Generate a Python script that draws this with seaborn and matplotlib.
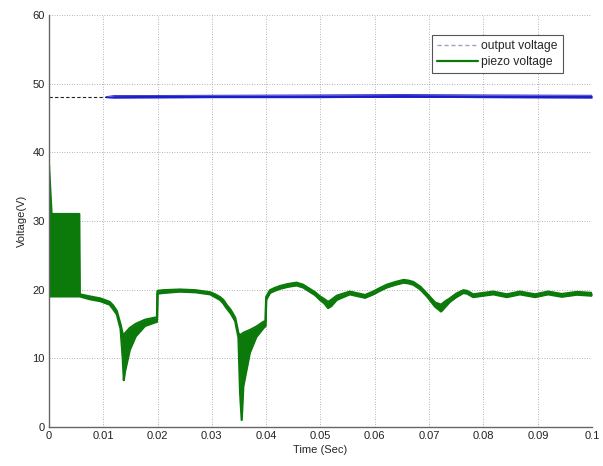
import numpy as np
import pandas as pd
import matplotlib
matplotlib.use("Agg")
import matplotlib.pyplot as plt
import seaborn as sns
from matplotlib.lines import Line2D

# --- DATA ---

# piezo voltage: envelope of the fast switching band (time, upper, lower)
piezo_t = [0.0, 0.0005, 0.0056, 0.0057, 0.0075, 0.0095, 0.0112, 0.0118, 0.0125,
           0.0132, 0.0136, 0.0138, 0.0140, 0.0149, 0.0160, 0.0177, 0.0195, 0.0199,
           0.0200, 0.0210, 0.0241, 0.0270, 0.0297, 0.0306, 0.0315, 0.0321, 0.0327,
           0.0335, 0.0343, 0.0349, 0.0352, 0.0355, 0.0358, 0.0370, 0.0382, 0.0395,
           0.0399, 0.0400, 0.0407, 0.0415, 0.0425, 0.0440, 0.0456, 0.0468, 0.0480,
           0.0490, 0.0499, 0.0507, 0.0514, 0.0520, 0.0530, 0.0554, 0.0565, 0.0582,
           0.0597, 0.0609, 0.0622, 0.0638, 0.0653, 0.0662, 0.0671, 0.0684, 0.0696,
           0.0711, 0.0722, 0.0730, 0.0738, 0.0750, 0.0763, 0.0770, 0.0781, 0.0818,
           0.0843, 0.0867, 0.0895, 0.0919, 0.0944, 0.0972, 0.1000]
piezo_hi = [38.5, 31.0, 31.0, 19.3, 19.0, 18.7, 18.2, 17.7, 16.9,
            14.9, 13.5, 13.4, 13.6, 14.4, 15.0, 15.6, 15.9, 15.9,
            19.8, 19.9, 20.0, 19.9, 19.6, 19.3, 18.9, 18.5, 17.8,
            17.0, 15.9, 13.6, 13.4, 13.5, 13.7, 14.1, 14.6, 15.3,
            15.4, 18.9, 19.9, 20.2, 20.5, 20.8, 21.0, 20.7, 20.1,
            19.6, 19.0, 18.6, 18.2, 18.5, 19.1, 19.7, 19.5, 19.2,
            19.7, 20.2, 20.7, 21.1, 21.4, 21.3, 21.1, 20.4, 19.4,
            18.1, 17.8, 18.3, 18.7, 19.4, 19.9, 19.8, 19.3, 19.7,
            19.3, 19.7, 19.3, 19.7, 19.35, 19.65, 19.5]
piezo_lo = [19.0, 19.0, 19.0, 19.0, 18.6, 18.3, 17.8, 17.2, 16.4,
            14.3, 10.0, 6.8, 8.0, 11.2, 13.2, 14.7, 15.2, 15.3,
            19.4, 19.5, 19.7, 19.6, 19.3, 18.9, 18.5, 18.0, 17.3,
            16.5, 15.4, 13.0, 5.0, 1.0, 5.9, 10.8, 13.1, 14.4,
            14.7, 18.5, 19.5, 19.8, 20.1, 20.4, 20.6, 20.3, 19.7,
            19.2, 18.5, 18.0, 17.3, 17.6, 18.5, 19.3, 19.1, 18.8,
            19.3, 19.8, 20.3, 20.7, 21.0, 20.9, 20.7, 20.0, 19.0,
            17.5, 16.8, 17.5, 18.2, 18.9, 19.5, 19.4, 18.9, 19.3,
            18.9, 19.3, 18.9, 19.3, 18.95, 19.25, 19.1]

# output voltage: dashed start, then a thin noisy band
out_start_t = [0.0, 0.0105]
out_start_v = [48.1, 48.1]
out_t = [0.0105, 0.012, 0.03, 0.05, 0.065, 0.08, 0.1]
out_hi = [48.1, 48.25, 48.3, 48.35, 48.4, 48.35, 48.3]
out_lo = [47.95, 47.9, 47.95, 47.95, 48.0, 47.95, 47.9]

x_ticks = [0, 0.01, 0.02, 0.03, 0.04, 0.05, 0.06, 0.07, 0.08, 0.09, 0.1]
x_labels = ["0", "0.01", "0.02", "0.03", "0.04", "0.05", "0.06", "0.07", "0.08", "0.09", "0.1"]
y_ticks = [0, 10, 20, 30, 40, 50, 60]

GREEN = "#0b7a0b"
BLUE = "#1c1cc8"

sns.set_style("white")
plt.rcParams["font.family"] = ["Liberation Sans", "DejaVu Sans"]

fig = plt.figure(figsize=(6.03, 4.66), dpi=100)
ax = fig.add_axes([0.081, 0.084, 0.901, 0.884])

piezo = pd.DataFrame({"t": piezo_t, "hi": piezo_hi, "lo": piezo_lo})
out = pd.DataFrame({"t": out_t, "hi": out_hi, "lo": out_lo})

ax.fill_between(piezo["t"], piezo["lo"], piezo["hi"], color=GREEN, lw=0)
sns.lineplot(data=piezo, x="t", y="hi", color=GREEN, lw=1.6, ax=ax, sort=False)
sns.lineplot(data=piezo, x="t", y="lo", color=GREEN, lw=1.6, ax=ax, sort=False)

ax.fill_between(out["t"], out["lo"], out["hi"], color=BLUE, lw=0)
sns.lineplot(data=out, x="t", y="hi", color=BLUE, lw=0.6, ax=ax, sort=False)
sns.lineplot(data=out, x="t", y="lo", color=BLUE, lw=0.6, ax=ax, sort=False)
sns.lineplot(x=out_start_t, y=out_start_v, color="#222222", lw=0.8,
             linestyle=(0, (3, 2)), ax=ax)

ax.set_xlim(0, 0.1)
ax.set_ylim(0, 60)
ax.set_xticks(x_ticks)
ax.set_xticklabels(x_labels)
ax.set_yticks(y_ticks)
ax.grid(True, linestyle=(0, (1, 2)), color="#9a9a9a", lw=0.6)
ax.tick_params(direction="in", length=3, labelsize=8, colors="#444444",
               labelcolor="#222222", pad=3)
for s in ["top", "right"]:
    ax.spines[s].set_visible(False)
for s in ["left", "bottom"]:
    ax.spines[s].set_color("#666666")
    ax.spines[s].set_linewidth(1.0)

ax.set_xlabel("Time (Sec)", fontsize=8, labelpad=3)
ax.set_ylabel("Voltage(V)", fontsize=8, labelpad=4)

handles = [Line2D([], [], color="#a0a0c8", lw=1.0, linestyle=(0, (3, 2))),
           Line2D([], [], color=GREEN, lw=1.6)]
leg = ax.legend(handles, ["output voltage", "piezo voltage"], loc="upper right",
                bbox_to_anchor=(0.957, 0.965), fontsize=8.7, frameon=True,
                fancybox=False, framealpha=1, borderpad=0.4, labelspacing=0.3,
                handlelength=3.4, handletextpad=0.3)
leg.get_frame().set_edgecolor("#555555")
leg.get_frame().set_linewidth(0.8)

fig.savefig("out.png", dpi=100)
